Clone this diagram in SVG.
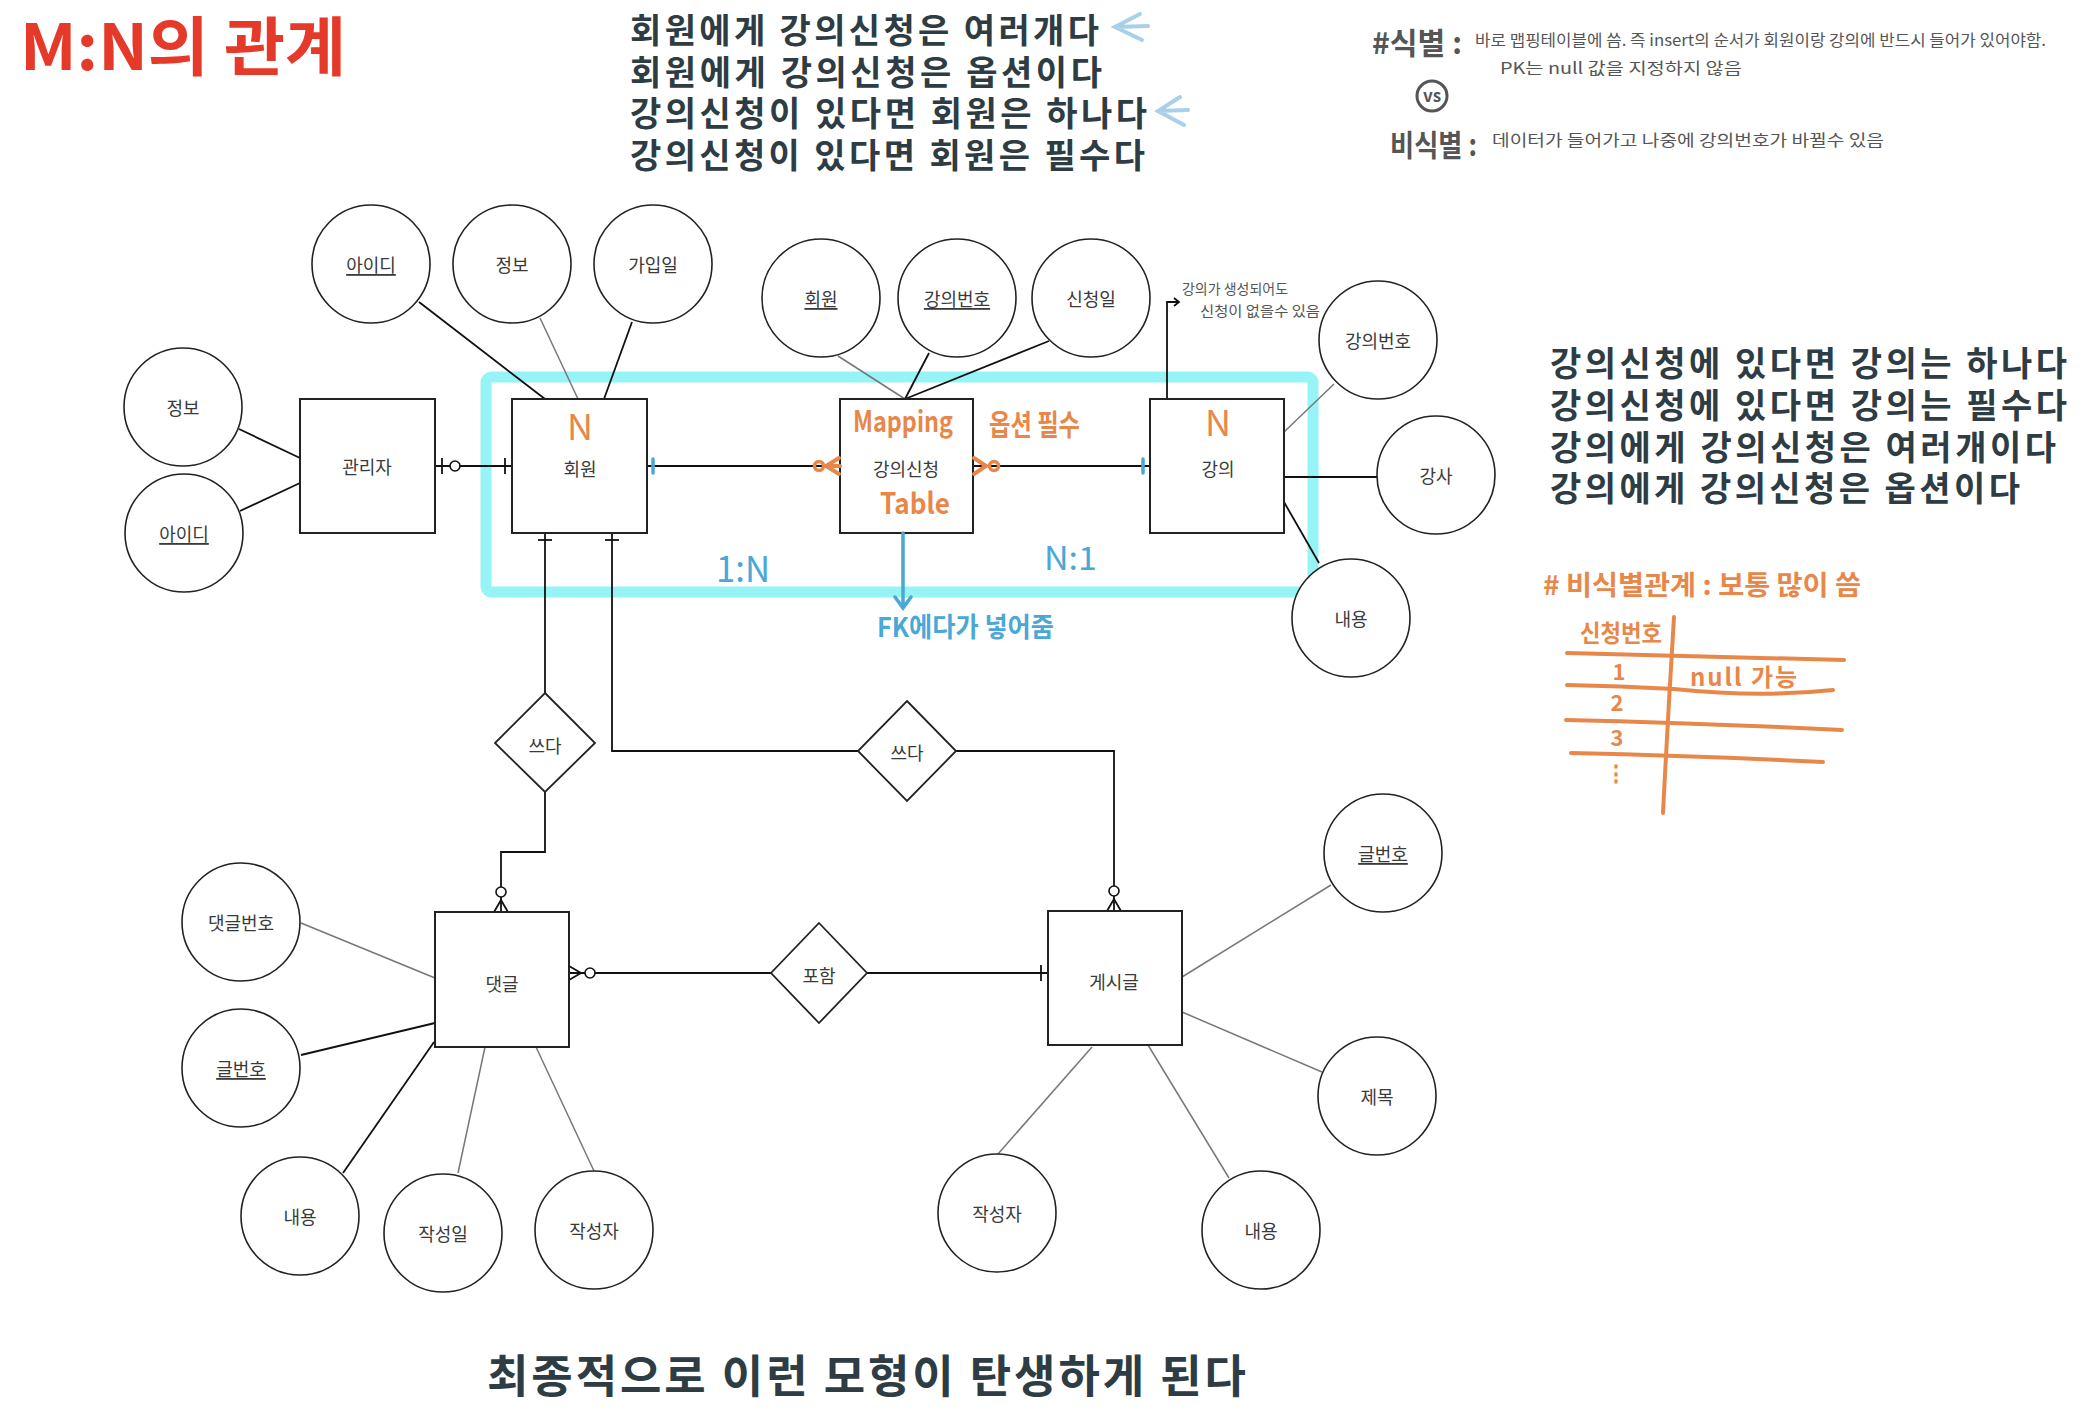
<svg xmlns="http://www.w3.org/2000/svg" width="2083" height="1416" viewBox="0 0 2083 1416">
<style>
text{font-family:"Noto Sans CJK KR","Noto Sans",sans-serif}
.attr ellipse,.attr circle{fill:#fff;stroke:#222;stroke-width:1.6}
.ent rect{fill:#fff;stroke:#222;stroke-width:2}
.rel polygon{fill:#fff;stroke:#222;stroke-width:1.8}
.lbl{font-size:18px;fill:#3a3a3a;text-anchor:middle;dominant-baseline:central}
.u{text-decoration:underline}
.c line,.c path,.c polyline{fill:none;stroke:#111;stroke-width:1.8}
.c .g{stroke:#777;stroke-width:1.5}
.mk{fill:#fff;stroke:#111;stroke-width:1.6}
.dark{fill:#2e3c43;font-weight:bold;font-size:34px}
.or{fill:#e8874a}
.orl{fill:none;stroke:#e8874a;stroke-width:4;stroke-linecap:round}
.bl{fill:#4aa7d6}
.bll{fill:none;stroke:#4aa7d6;stroke-width:3.5;stroke-linecap:round}
.hw{fill:#555}
</style>

<!-- title and notes -->
<text x="20" y="70" font-size="64" font-weight="bold" fill="#e53a2a" textLength="326" lengthAdjust="spacingAndGlyphs">M:N의 관계</text>

<g id="note-top">
<text class="dark" x="630" y="43" textLength="469">회원에게 강의신청은 여러개다</text>
<text class="dark" x="630" y="85" textLength="472">회원에게 강의신청은 옵션이다</text>
<text class="dark" x="630" y="126" textLength="517">강의신청이 있다면 회원은 하나다</text>
<text class="dark" x="630" y="168" textLength="515">강의신청이 있다면 회원은 필수다</text>
<path d="M1140,14 L1115,27 L1142,40 M1115,27 L1148,26" fill="none" stroke="#a9d0ea" stroke-width="4" stroke-linecap="round"/>
<path d="M1180,97 L1158,111 L1184,125 M1158,111 L1188,110" fill="none" stroke="#a9d0ea" stroke-width="4" stroke-linecap="round"/>
</g>

<g id="note-right-top">
<text class="hw" x="1372" y="54" font-size="30" font-weight="bold" textLength="90" lengthAdjust="spacingAndGlyphs">#식별 :</text>
<text class="hw" x="1475" y="46" font-size="16" textLength="571" lengthAdjust="spacingAndGlyphs">바로 맵핑테이블에 씀. 즉 insert의 순서가 회원이랑 강의에 반드시 들어가 있어야함.</text>
<text class="hw" x="1500" y="74" font-size="16" textLength="242" lengthAdjust="spacingAndGlyphs">PK는 null 값을 지정하지 않음</text>
<circle cx="1432" cy="96" r="15" fill="none" stroke="#555" stroke-width="3"/>
<text class="hw" x="1432" y="102" font-size="17" font-weight="bold" text-anchor="middle">vs</text>
<text class="hw" x="1390" y="156" font-size="30" font-weight="bold" textLength="87" lengthAdjust="spacingAndGlyphs">비식별 :</text>
<text class="hw" x="1492" y="146" font-size="16" textLength="392" lengthAdjust="spacingAndGlyphs">데이터가 들어가고 나중에   강의번호가 바뀔수 있음</text>
</g>

<g id="note-right">
<text class="dark" x="1550" y="376" textLength="517">강의신청에 있다면 강의는 하나다</text>
<text class="dark" x="1550" y="418" textLength="517">강의신청에 있다면 강의는 필수다</text>
<text class="dark" x="1550" y="460" textLength="506">강의에게 강의신청은 여러개이다</text>
<text class="dark" x="1550" y="501" textLength="470">강의에게 강의신청은 옵션이다</text>
</g>

<g id="note-nonidentifying">
<text class="or" x="1543" y="595" font-size="27" font-weight="bold" textLength="318" lengthAdjust="spacingAndGlyphs"># 비식별관계 : 보통 많이 씀</text>
<text class="or" x="1580" y="642" font-size="24" font-weight="bold" textLength="82" lengthAdjust="spacingAndGlyphs">신청번호</text>
<path class="orl" d="M1674,617 Q1668,715 1663,813"/>
<path class="orl" d="M1567,653 Q1700,656 1844,660"/>
<path class="orl" d="M1567,685 Q1620,686 1674,689 Q1760,698 1833,690"/>
<path class="orl" d="M1566,720 Q1700,723 1842,730"/>
<path class="orl" d="M1571,753 Q1700,756 1823,762"/>
<text class="or" x="1619" y="680" font-size="22" font-weight="bold" text-anchor="middle">1</text>
<text class="or" x="1617" y="711" font-size="22" font-weight="bold" text-anchor="middle">2</text>
<text class="or" x="1617" y="746" font-size="22" font-weight="bold" text-anchor="middle">3</text>
<text class="or" x="1616" y="781" font-size="22" font-weight="bold" text-anchor="middle">⋮</text>
<text class="or" x="1690" y="686" font-size="24" font-weight="bold" textLength="107" lengthAdjust="spacing">null 가능</text>
</g>

<!-- cyan highlight -->
<rect x="486" y="377" width="827" height="215" rx="6" fill="none" stroke="#96f4f7" stroke-width="11"/>

<!-- connectors -->
<g id="connectors" class="c">
<line x1="419" y1="302" x2="545" y2="399"/>
<line class="g" x1="540" y1="318" x2="578" y2="399"/>
<line x1="632" y1="322" x2="604" y2="399"/>
<line x1="239" y1="429" x2="300" y2="458"/>
<line x1="240" y1="511" x2="300" y2="483"/>
<line class="g" x1="838" y1="356" x2="905" y2="399"/>
<line x1="929" y1="353" x2="905" y2="399"/>
<line x1="1049" y1="341" x2="905" y2="399"/>
<line class="g" x1="1334" y1="384" x2="1284" y2="432"/>
<line x1="1284" y1="477" x2="1377" y2="477"/>
<line x1="1284" y1="502" x2="1319" y2="563"/>
<line class="g" x1="301" y1="923" x2="435" y2="978"/>
<line x1="301" y1="1055" x2="435" y2="1023"/>
<line x1="343" y1="1173" x2="434" y2="1042"/>
<line class="g" x1="458" y1="1173" x2="485" y2="1047"/>
<line class="g" x1="594" y1="1171" x2="536" y2="1047"/>
<line class="g" x1="998" y1="1154" x2="1092" y2="1047"/>
<line class="g" x1="1229" y1="1178" x2="1148" y2="1045"/>
<line class="g" x1="1331" y1="885" x2="1182" y2="977"/>
<line class="g" x1="1182" y1="1012" x2="1322" y2="1072"/>

<!-- relationships -->
<line x1="435" y1="466" x2="512" y2="466"/>
<line x1="442" y1="458" x2="442" y2="474"/>
<circle class="mk" cx="455" cy="466" r="5"/>
<line x1="505" y1="458" x2="505" y2="474"/>

<line x1="647" y1="466" x2="840" y2="466"/>
<line x1="973" y1="466" x2="1150" y2="466"/>

<line x1="545" y1="533" x2="545" y2="693"/>
<line x1="538" y1="540" x2="552" y2="540"/>
<polyline points="545,792 545,852 501,852 501,912"/>
<circle class="mk" cx="501" cy="892" r="5"/>
<path d="M494,912 L501,900 L508,912"/>

<polyline points="612,533 612,751 858,751"/>
<line x1="605" y1="540" x2="619" y2="540"/>

<polyline points="956,751 1114,751 1114,911"/>
<circle class="mk" cx="1114" cy="891" r="5"/>
<path d="M1107,911 L1114,899 L1121,911"/>

<line x1="569" y1="973" x2="771" y2="973"/>
<path d="M569,966 L581,973 L569,980"/>
<circle class="mk" cx="590" cy="973" r="5"/>
<line x1="867" y1="973" x2="1048" y2="973"/>
<line x1="1041" y1="965" x2="1041" y2="981"/>

<!-- annotation arrow -->
<path d="M1167,399 L1167,302 L1178,302" stroke="#555" stroke-width="1.5"/>
<path d="M1174,298 L1179,302 L1174,306" stroke="#555" stroke-width="1.5"/>
</g>

<!-- entities -->
<g id="e-admin" class="ent"><rect x="300" y="399" width="135" height="134"/><text class="lbl" x="367" y="466">관리자</text></g>
<g id="e-member" class="ent"><rect x="512" y="399" width="135" height="134"/><text class="lbl" x="580" y="468">회원</text></g>
<g id="e-enroll" class="ent"><rect x="840" y="399" width="133" height="134"/><text class="lbl" x="906" y="468">강의신청</text></g>
<g id="e-lecture" class="ent"><rect x="1150" y="399" width="134" height="134"/><text class="lbl" x="1218" y="468">강의</text></g>
<g id="e-comment" class="ent"><rect x="435" y="912" width="134" height="135"/><text class="lbl" x="502" y="983">댓글</text></g>
<g id="e-post" class="ent"><rect x="1048" y="911" width="134" height="134"/><text class="lbl" x="1114" y="981">게시글</text></g>

<!-- relationship diamonds -->
<g id="r-write1" class="rel"><polygon points="545,693 595,743 545,792 495,743"/><text class="lbl" x="545" y="745">쓰다</text></g>
<g id="r-write2" class="rel"><polygon points="907,701 956,751 907,801 858,751"/><text class="lbl" x="907" y="752">쓰다</text></g>
<g id="r-include" class="rel"><polygon points="819,923 867,973 819,1023 771,973"/><text class="lbl" x="819" y="975">포함</text></g>

<!-- attributes -->
<g id="a-m-id" class="attr"><circle cx="371" cy="264" r="59"/><text class="lbl u" x="371" y="264">아이디</text></g>
<g id="a-m-info" class="attr"><circle cx="512" cy="264" r="59"/><text class="lbl" x="512" y="264">정보</text></g>
<g id="a-m-join" class="attr"><circle cx="653" cy="264" r="59"/><text class="lbl" x="653" y="264">가입일</text></g>
<g id="a-ad-info" class="attr"><circle cx="183" cy="407" r="59"/><text class="lbl" x="183" y="407">정보</text></g>
<g id="a-ad-id" class="attr"><circle cx="184" cy="533" r="59"/><text class="lbl u" x="184" y="533">아이디</text></g>
<g id="a-en-mem" class="attr"><circle cx="821" cy="298" r="59"/><text class="lbl u" x="821" y="298">회원</text></g>
<g id="a-en-lec" class="attr"><circle cx="957" cy="298" r="59"/><text class="lbl u" x="957" y="298">강의번호</text></g>
<g id="a-en-date" class="attr"><circle cx="1091" cy="298" r="59"/><text class="lbl" x="1091" y="298">신청일</text></g>
<g id="a-l-no" class="attr"><circle cx="1378" cy="340" r="59"/><text class="lbl" x="1378" y="340">강의번호</text></g>
<g id="a-l-teacher" class="attr"><circle cx="1436" cy="475" r="59"/><text class="lbl" x="1436" y="475">강사</text></g>
<g id="a-l-content" class="attr"><circle cx="1351" cy="618" r="59"/><text class="lbl" x="1351" y="618">내용</text></g>
<g id="a-c-no" class="attr"><circle cx="241" cy="922" r="59"/><text class="lbl" x="241" y="922">댓글번호</text></g>
<g id="a-c-post" class="attr"><circle cx="241" cy="1068" r="59"/><text class="lbl u" x="241" y="1068">글번호</text></g>
<g id="a-c-content" class="attr"><circle cx="300" cy="1216" r="59"/><text class="lbl" x="300" y="1216">내용</text></g>
<g id="a-c-date" class="attr"><circle cx="443" cy="1233" r="59"/><text class="lbl" x="443" y="1233">작성일</text></g>
<g id="a-c-writer" class="attr"><circle cx="594" cy="1230" r="59"/><text class="lbl" x="594" y="1230">작성자</text></g>
<g id="a-p-writer" class="attr"><circle cx="997" cy="1213" r="59"/><text class="lbl" x="997" y="1213">작성자</text></g>
<g id="a-p-content" class="attr"><circle cx="1261" cy="1230" r="59"/><text class="lbl" x="1261" y="1230">내용</text></g>
<g id="a-p-no" class="attr"><circle cx="1383" cy="853" r="59"/><text class="lbl u" x="1383" y="853">글번호</text></g>
<g id="a-p-title" class="attr"><circle cx="1377" cy="1096" r="59"/><text class="lbl" x="1377" y="1096">제목</text></g>

<!-- overlays -->
<g id="overlay">
<line class="bll" x1="653" y1="459" x2="653" y2="473"/>
<line class="bll" x1="1143" y1="459" x2="1143" y2="473"/>
<circle cx="819" cy="466" r="4.5" fill="none" stroke="#e8874a" stroke-width="3.5"/>
<path class="orl" d="M839,458 L826,466 L839,474 M826,466 L840,466"/>
<path class="orl" d="M974,458 L986,466 L974,474"/>
<circle cx="994" cy="466" r="4.5" fill="none" stroke="#e8874a" stroke-width="3.5"/>
<text class="or" x="580" y="440" font-size="36" text-anchor="middle">N</text>
<text class="or" x="1218" y="436" font-size="36" text-anchor="middle">N</text>
<text class="or" x="853" y="432" font-size="29" font-weight="bold" textLength="100" lengthAdjust="spacingAndGlyphs">Mapping</text>
<text class="or" x="880" y="514" font-size="29" font-weight="bold" textLength="70" lengthAdjust="spacingAndGlyphs">Table</text>
<text class="or" x="989" y="436" font-size="29" font-weight="bold" textLength="91" lengthAdjust="spacingAndGlyphs">옵션 필수</text>
<text class="bl" x="716" y="582" font-size="36" textLength="54" lengthAdjust="spacingAndGlyphs">1:N</text>
<text class="bl" x="1044" y="570" font-size="32" textLength="53" lengthAdjust="spacingAndGlyphs">N:1</text>
<path class="bll" d="M903,533 L903,608 M895,597 L903,608 L911,597"/>
<text class="bl" x="877" y="637" font-size="27" font-weight="bold" textLength="177" lengthAdjust="spacingAndGlyphs">FK에다가 넣어줌</text>
<text class="hw" x="1182" y="294" font-size="14" textLength="106" lengthAdjust="spacingAndGlyphs">강의가 생성되어도</text>
<text class="hw" x="1200" y="316" font-size="14" textLength="120" lengthAdjust="spacingAndGlyphs">신청이 없을수 있음</text>
</g>

<text x="487" y="1393" font-size="45" font-weight="bold" fill="#2e3c43" textLength="759">최종적으로 이런 모형이 탄생하게 된다</text>
</svg>
